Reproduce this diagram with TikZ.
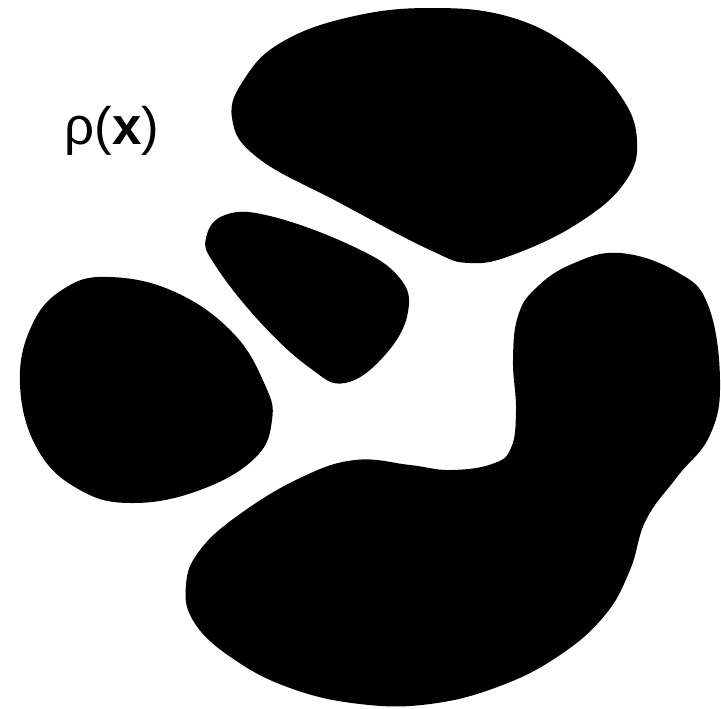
\documentclass[tikz,border=0pt]{standalone}
\usepackage{fontspec}
\setmainfont{Liberation Sans}

\begin{document}
\begin{tikzpicture}[x=0.01cm, y=-0.01cm]
    \useasboundingbox (0,0) rectangle (721,708);

    % Density label
    \node[font=\fontsize{15}{18}\selectfont, inner sep=0pt] (rho) at (112,131) {ρ(\textbf{x})};

    % Top blob
    \fill[black] plot[smooth cycle, tension=0.7] coordinates {
        (232,118) (245,78) (282,42) (350,17) (430,8) (510,17) (575,50)
        (620,95) (637,140) (625,182) (580,222) (515,254) (470,263)
        (430,250) (340,203) (258,158)};

    % Middle (small) blob
    \fill[black] plot[smooth cycle, tension=0.7] coordinates {
        (206,238) (225,215) (270,216) (350,245) (398,276)
        (408,312) (385,355) (345,383) (310,368) (260,322) (215,265)};

    % Left blob
    \fill[black] plot[smooth cycle, tension=0.7] coordinates {
        (110,277) (175,292) (233,333) (265,385) (272,420) (255,458)
        (200,490) (133,503) (80,490) (38,450) (20,385) (32,325) (65,288)};

    % Bottom blob with its arm
    \fill[black] plot[smooth cycle, tension=0.7] coordinates {
        (620,253) (677,272) (708,305) (720,380) (710,435) (677,477)
        (646,520) (630,570) (605,615) (560,655) (500,686) (430,704)
        (360,704) (290,688) (232,658) (194,622) (186,585) (200,550)
        (240,514) (300,478) (355,460) (410,465) (450,470) (492,464)
        (511,448) (516,410) (513,360) (518,316) (536,288) (572,264)};
\end{tikzpicture}
\end{document}
